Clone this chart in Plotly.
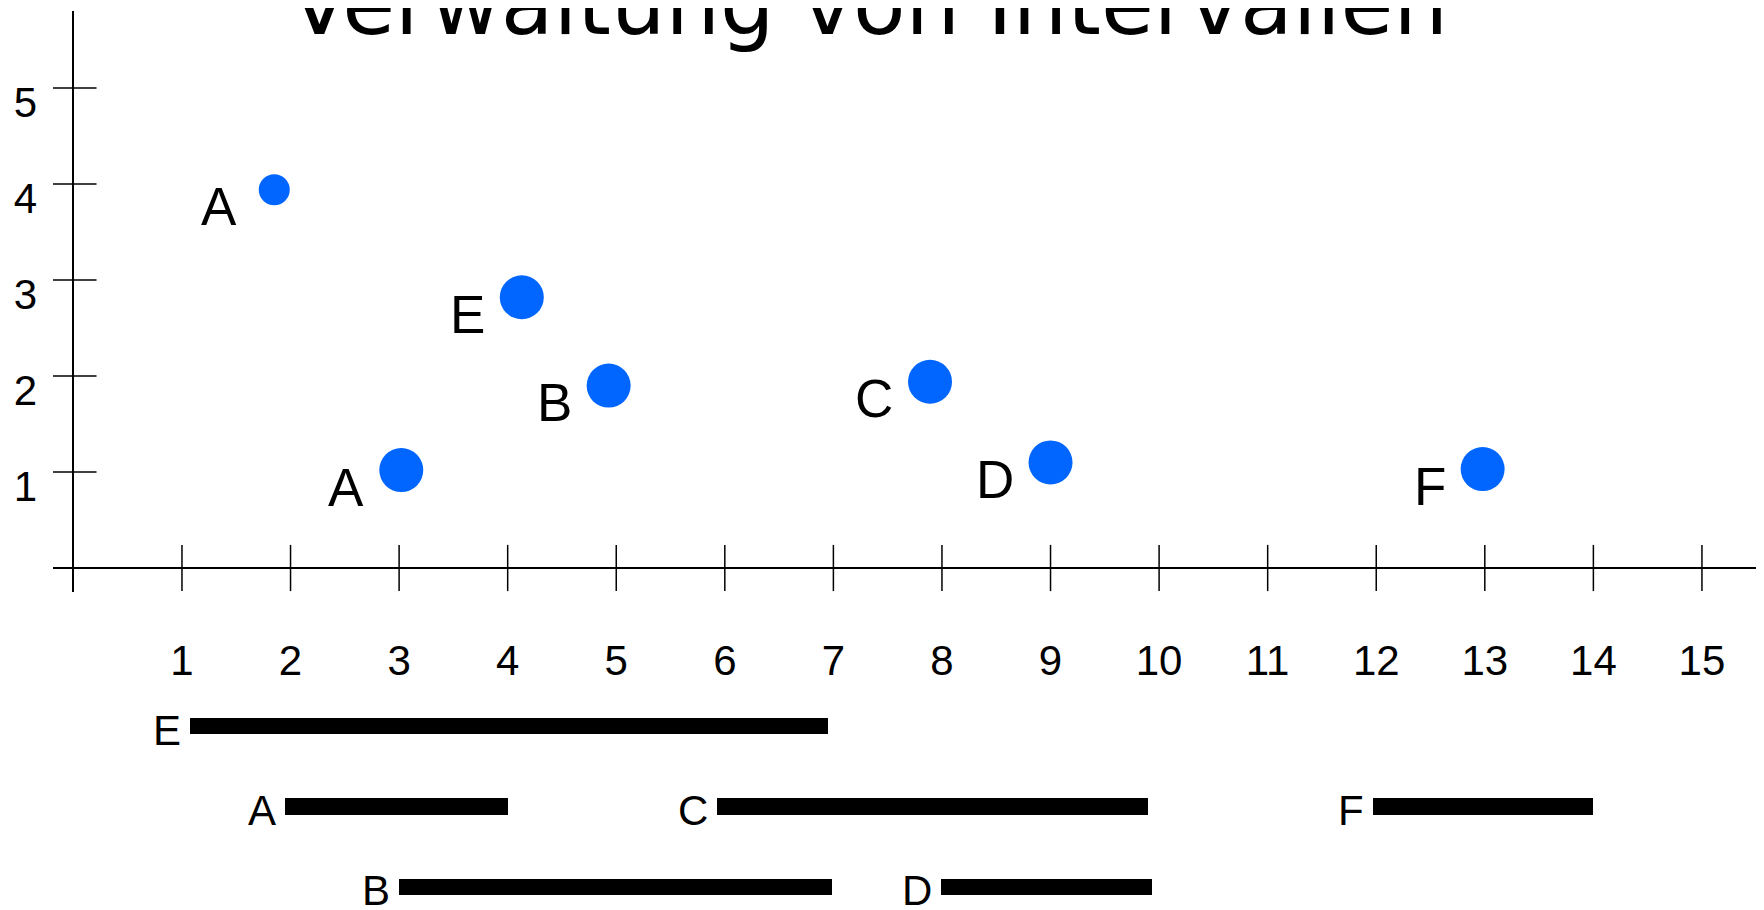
import plotly.graph_objects as go

# punkte (oben)
pkt_namen = ["A", "A", "E", "B", "C", "D", "F"]
pkt_x = [1.85, 3.02, 4.13, 4.93, 7.89, 9.0, 12.98]
pkt_y = [3.94, 1.02, 2.82, 1.90, 1.94, 1.10, 1.03]
pkt_groesse = [31, 44, 44, 44, 44, 44, 44]

# intervalle (unten)
iv_namen = ["E", "A", "C", "F", "B", "D"]
iv_start = [1.07, 1.95, 5.93, 11.97, 3.0, 7.99]
iv_ende = [6.95, 4.0, 9.9, 14.0, 6.99, 9.93]
iv_zeile = [3, 2, 2, 2, 1, 1]

x_ticks = list(range(1, 16))
y_ticks = [1, 2, 3, 4, 5]

# seite hat 8px rand -> figur etwas kleiner
W, H = 1756, 902
font = "Arial, Liberation Sans, sans-serif"
blau = "#0066ff"

fig = go.Figure()

# achsen-striche (kreuzen die achse)
fig.add_trace(go.Scatter(
    x=x_ticks, y=[0] * len(x_ticks), mode="markers",
    marker=dict(symbol="line-ns-open", size=33, color="black",
                line=dict(color="black", width=1.5)),
    xaxis="x", yaxis="y", hoverinfo="skip", showlegend=False))
fig.add_trace(go.Scatter(
    x=[0] * len(y_ticks), y=y_ticks, mode="markers",
    marker=dict(symbol="line-ew-open", size=33, color="black",
                line=dict(color="black", width=1.5)),
    xaxis="x", yaxis="y", hoverinfo="skip", showlegend=False))

fig.add_trace(go.Scatter(
    x=pkt_x, y=pkt_y, mode="markers",
    marker=dict(color=blau, size=pkt_groesse, opacity=1, line=dict(width=0)),
    xaxis="x", yaxis="y", showlegend=False))

for name, px, py in zip(pkt_namen, pkt_x, pkt_y):
    fig.add_annotation(
        x=px, y=py, xref="x", yref="y", text=name, showarrow=False,
        xanchor="right", yanchor="middle", xshift=-35, yshift=-17,
        font=dict(family=font, size=53, color="black"))

fig.add_trace(go.Bar(
    y=iv_zeile, x=[e - s for s, e in zip(iv_start, iv_ende)], base=iv_start,
    orientation="h", width=0.2, marker=dict(color="black", line=dict(width=0)),
    xaxis="x2", yaxis="y2", showlegend=False))

for name, s, z in zip(iv_namen, iv_start, iv_zeile):
    fig.add_annotation(
        x=s, y=z, xref="x2", yref="y2", text=name, showarrow=False,
        xanchor="right", yanchor="middle", xshift=-7, yshift=-4,
        font=dict(family=font, size=42, color="black"))

# pixel -> achsen
x0_px, x_px = 65.4, 108.57
x_links = 45
x_dom = x_links / W
x_rng = [(x_links - x0_px) / x_px, (W - x0_px) / x_px]

fig.update_layout(
    width=W, height=H, margin=dict(l=0, r=0, t=0, b=0),
    paper_bgcolor="white", plot_bgcolor="white",
    xaxis=dict(domain=[x_dom, 1], range=x_rng, anchor="y",
               showgrid=False, showline=False, zeroline=True,
               zerolinecolor="black", zerolinewidth=2,
               tickvals=x_ticks, ticks="", ticklabelstandoff=40,
               tickfont=dict(family=font, size=42, color="black")),
    yaxis=dict(domain=[1 - 584 / H, 1 - 3 / H], range=[-0.25, (560 - 3) / 96],
               anchor="x", showgrid=False, showline=False, zeroline=True,
               zerolinecolor="black", zerolinewidth=2,
               tickvals=y_ticks, ticks="", ticklabelstandoff=15, ticklabelshift=14,
               tickfont=dict(family=font, size=42, color="black")),
    xaxis2=dict(domain=[x_dom, 1], matches="x", anchor="y2", visible=False),
    yaxis2=dict(domain=[0, 1 - 678 / H], range=[0.714, 3.497], anchor="x2",
                visible=False),
    bargap=0,
)

fig.add_annotation(
    text="Verwaltung von Intervallen", xref="paper", yref="paper",
    x=861 / W, y=1 + 4 / H, xanchor="center", yanchor="middle", showarrow=False,
    font=dict(family="DejaVu Sans", size=86, color="black"))

fig.write_html("out.html")
